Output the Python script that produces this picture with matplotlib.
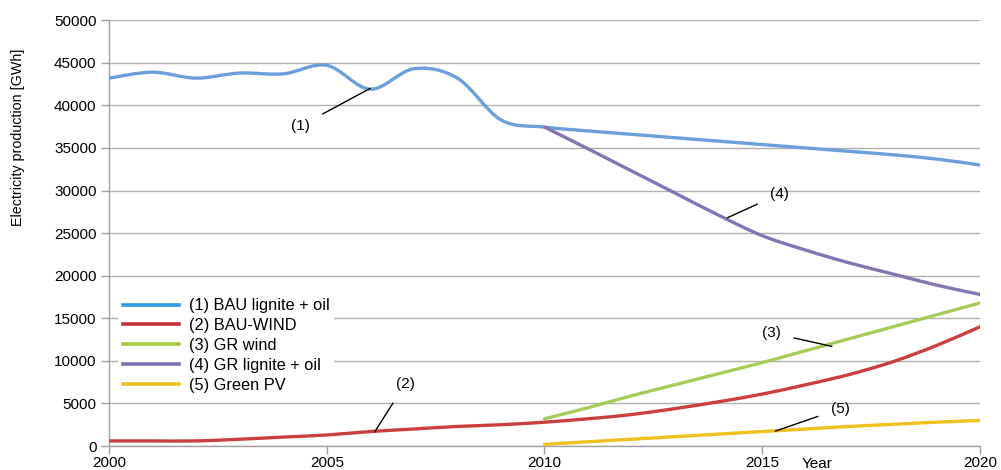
import numpy as np
import matplotlib
matplotlib.use("Agg")
import matplotlib.pyplot as plt
from matplotlib.path import Path
from matplotlib.patches import PathPatch
from matplotlib.lines import Line2D

plt.rcParams['font.family'] = ['Liberation Sans', 'DejaVu Sans']

# annual electricity production, GWh
years_hist = list(range(2000, 2021))
bau_lignite = [43200, 43900, 43200, 43800, 43700, 44700, 41900, 44300, 43200, 38300, 37450,
               37000, 36600, 36200, 35800, 35400, 35000, 34600, 34200, 33700, 33000]
bau_wind = [600, 600, 600, 800, 1050, 1300, 1700, 2000, 2300, 2500, 2800,
            3200, 3700, 4400, 5200, 6100, 7200, 8400, 9900, 11800, 14000]

years_gr = list(range(2010, 2021))
gr_wind = [3200, 4500, 5900, 7200, 8500, 9800, 11200, 12600, 14000, 15400, 16800]
gr_lignite = [37450, 34900, 32300, 29700, 27100, 24700, 23000, 21500, 20200, 18900, 17800]
green_pv = [200, 500, 800, 1100, 1400, 1700, 2000, 2300, 2550, 2800, 3000]

labels = ['(1) BAU lignite + oil', '(2) BAU-WIND', '(3) GR wind',
          '(4) GR lignite + oil', '(5) Green PV']
colors = ['#6a9fdc', '#cc3f3f', '#a6cb5a', '#8474b4', '#f2c01e']
legend_colors = ['#2a9be0', '#c8323a', '#a6cb3a', '#7b6fb0', '#f2c01e']


def smooth_path(x, y):
    # Catmull-Rom style cubic Bezier through the points
    x = np.asarray(x, float)
    y = np.asarray(y, float)
    verts = [(x[0], y[0])]
    codes = [Path.MOVETO]
    n = len(x)
    for i in range(n - 1):
        p0 = np.array([x[max(i - 1, 0)], y[max(i - 1, 0)]])
        p1 = np.array([x[i], y[i]])
        p2 = np.array([x[i + 1], y[i + 1]])
        p3 = np.array([x[min(i + 2, n - 1)], y[min(i + 2, n - 1)]])
        c1 = p1 + (p2 - p0) / 6.0
        c2 = p2 - (p3 - p1) / 6.0
        verts += [tuple(c1), tuple(c2), tuple(p2)]
        codes += [Path.CURVE4] * 3
    return Path(verts, codes)


fig = plt.figure(figsize=(10.01, 4.70), dpi=100)
ax = fig.add_axes([0.1089, 0.051, 0.8701, 0.906])

series = [(years_hist, bau_lignite), (years_hist, bau_wind), (years_gr, gr_wind),
          (years_gr, gr_lignite), (years_gr, green_pv)]
for (xs, ys), c in zip(series, colors):
    ax.add_patch(PathPatch(smooth_path(xs, ys), facecolor='none', edgecolor=c,
                           lw=2.4, capstyle='round', zorder=3))

ax.set_xlim(2000, 2020)
ax.set_ylim(0, 50000)
ax.set_xticks([2000, 2005, 2010, 2015, 2020])
ax.set_yticks(np.arange(0, 50001, 5000))
ax.tick_params(axis='both', labelsize=11, color='#a0a0a0', length=6, width=1)
ax.tick_params(axis='x', pad=1)
ax.tick_params(axis='y', pad=3)
ax.grid(axis='y', color='#b0b0b0', lw=1)
ax.set_axisbelow(True)
for s in ['top', 'right']:
    ax.spines[s].set_visible(False)
for s in ['left', 'bottom']:
    ax.spines[s].set_color('#a0a0a0')
    ax.spines[s].set_linewidth(1)

ax.set_ylabel('Electricity production [GWh]', fontsize=10.3)
ax.yaxis.set_label_coords(-0.096, 0.725)
ax.text(2015.9, -1250, 'Year', fontsize=11, ha='left', va='top', clip_on=False)

# numbered call-outs
notes = [('(1)', (2004.4, 37600), (2006.0, 42000)),
         ('(2)', (2006.8, 7300), (2006.1, 1650)),
         ('(3)', (2015.2, 13300), (2016.6, 11700)),
         ('(4)', (2015.4, 29600), (2014.2, 26800)),
         ('(5)', (2016.8, 4400), (2015.3, 1750))]
for txt, tpos, ppos in notes:
    ax.annotate(txt, xy=ppos, xytext=tpos, fontsize=11, ha='center', va='center',
                arrowprops=dict(arrowstyle='-', color='black', lw=1,
                                shrinkA=8, shrinkB=0), zorder=4)

handles = [Line2D([], [], color=c, lw=2.6) for c in legend_colors]
leg = ax.legend(handles, labels, loc='upper left', bbox_to_anchor=(0.005, 0.37),
                frameon=True, fontsize=11.8, handlelength=3.4, handletextpad=0.6,
                labelspacing=0.3, borderpad=0.3, borderaxespad=0.3)
leg.get_frame().set_edgecolor('none')
leg.get_frame().set_facecolor('white')
leg.get_frame().set_alpha(1)

fig.savefig('out.png', dpi=100)
